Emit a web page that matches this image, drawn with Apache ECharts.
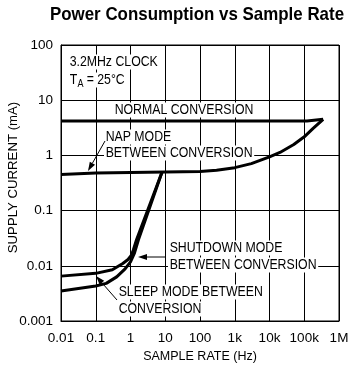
<!DOCTYPE html>
<html><head><meta charset="utf-8">
<script src="https://cdn.jsdelivr.net/npm/echarts@6/dist/echarts.min.js"></script>
<style>html,body{margin:0;padding:0;background:#fff}#c{width:356px;height:371px}</style>
</head><body><div id="c"></div>
<script>
// ---- data ----
const xTickLabels = ['0.01', '0.1', '1', '10', '100', '1k', '10k', '100k', '1M'];
const yTickLabels = ['0.001', '0.01', '0.1', '1', '10', '100'];

const normalRate    = [0.01, 120000, 350000];
const normalCurrent = [4.2, 4.2, 4.5];

const napRate    = [0.01, 0.1, 1, 10, 100, 300, 1000, 3000, 10000, 20000, 50000, 100000, 180000, 350000];
const napCurrent = [0.45, 0.48, 0.49, 0.5, 0.51, 0.54, 0.6, 0.71, 0.94, 1.13, 1.58, 2.17, 3.08, 4.5];

const sleepRate    = [0.01, 0.1, 0.3, 0.6, 0.85, 1.05, 1.2, 1.5, 8];
const sleepCurrent = [0.0065, 0.0073, 0.0085, 0.011, 0.013, 0.0155, 0.0191, 0.03, 0.49];

const shutdownRate    = [0.01, 0.1, 0.2, 0.4, 0.7, 1.0, 1.3, 1.7, 8];
const shutdownCurrent = [0.0035, 0.0043, 0.0048, 0.0063, 0.0088, 0.0118, 0.017, 0.03, 0.49];

// ---- chart ----
const FF = '"Liberation Sans",Arial,Helvetica,sans-serif';
const pair = (xs, ys) => xs.map((x, i) => [x, ys[i]]);
const chart = echarts.init(document.getElementById('c'), null, {renderer: 'canvas'});

// narrow (Helvetica-Narrow-like) text: Liberation Sans squeezed horizontally
function txt(text, x, y, opts) {
  opts = opts || {};
  return {
    type: 'text', z: opts.z || 100, x: x, y: y, scaleX: opts.scaleX || 0.82,
    style: {text: text, x: 0, y: 0, fill: '#000',
      font: (opts.weight || 'normal') + ' ' + (opts.size || 15) + 'px ' + FF,
      align: opts.align || 'left', verticalAlign: 'middle',
      backgroundColor: opts.bg === false ? null : '#fff', padding: opts.bg === false ? 0 : [0, 2]}
  };
}
function arrow(fx, fy, tx, ty) {
  const dx = tx - fx, dy = ty - fy, len = Math.hypot(dx, dy);
  const ux = dx / len, uy = dy / len, L = 9, W = 3;
  const bx = tx - ux * L, by = ty - uy * L;
  return [
    {type: 'line', z: 101, shape: {x1: fx, y1: fy, x2: bx, y2: by}, style: {stroke: '#000', lineWidth: 1}},
    {type: 'polygon', z: 101, shape: {points: [[tx, ty], [bx - uy * W, by + ux * W], [bx + uy * W, by - ux * W]]},
      style: {fill: '#000'}}
  ];
}

const lineSeries = (name, xs, ys, w) => ({
  name: name, type: 'line', data: pair(xs, ys), showSymbol: false, symbol: 'none',
  lineStyle: {color: '#000', width: w}, z: 5, silent: true, animation: false
});

chart.setOption({
  animation: false,
  backgroundColor: '#fff',
  grid: {left: 61, right: 17, top: 45, bottom: 50, show: true, borderColor: '#000', borderWidth: 1,
    containLabel: false, outerBoundsMode: 'none'},
  xAxis: {
    type: 'log', logBase: 10, min: 0.01, max: 1000000,
    name: 'SAMPLE RATE (Hz)', nameLocation: 'middle', nameGap: 29, nameMoveOverlap: false,
    nameTextStyle: {fontFamily: FF, fontSize: 12.5, color: '#000'},
    axisLine: {show: true, lineStyle: {color: '#000', width: 1}},
    axisTick: {show: false},
    axisLabel: {fontFamily: FF, fontSize: 13.5, color: '#000', margin: 10,
      formatter: v => xTickLabels[Math.round(Math.log10(v)) + 2]},
    splitLine: {show: true, lineStyle: {color: '#000', width: 1}},
    minorTick: {show: false}, minorSplitLine: {show: false}
  },
  yAxis: {
    type: 'log', logBase: 10, min: 0.001, max: 100,
    name: 'SUPPLY CURRENT (mA)', nameLocation: 'middle', nameGap: 41, nameMoveOverlap: false,
    nameTextStyle: {fontFamily: FF, fontSize: 13.2, color: '#000', padding: [0, 0, 0, 11]},
    axisLine: {show: true, lineStyle: {color: '#000', width: 1}},
    axisTick: {show: false},
    axisLabel: {fontFamily: FF, fontSize: 13.5, color: '#000', margin: 8,
      formatter: v => yTickLabels[Math.round(Math.log10(v)) + 3]},
    splitLine: {show: true, lineStyle: {color: '#000', width: 1}}
  },
  series: [
    lineSeries('Normal conversion', normalRate, normalCurrent, 3),
    lineSeries('Nap mode', napRate, napCurrent, 3),
    lineSeries('Sleep mode', sleepRate, sleepCurrent, 3),
    lineSeries('Shutdown mode', shutdownRate, shutdownCurrent, 3)
  ],
  graphic: [
    txt('Power Consumption vs Sample Rate', 197, 15, {size: 19, weight: 'bold', align: 'center', scaleX: 0.89, bg: false}),
    txt('3.2MHz CLOCK', 68, 62),
    txt('T', 68, 80),
    txt('A', 77.5, 84, {size: 11, bg: false, z: 102}),
    txt('= 25°C', 85, 80),
    txt('NORMAL CONVERSION', 113, 110),
    txt('NAP MODE', 104, 137),
    txt('BETWEEN CONVERSION', 104, 153),
    txt('SHUTDOWN MODE', 168, 248),
    txt('BETWEEN CONVERSION', 168, 265),
    txt('SLEEP MODE BETWEEN', 117, 292),
    txt('CONVERSION', 117, 309),
    ...arrow(105, 141, 88, 171),
    ...arrow(165, 257, 138, 257),
    ...arrow(117, 300, 96, 276)
  ]
});
</script></body></html>
